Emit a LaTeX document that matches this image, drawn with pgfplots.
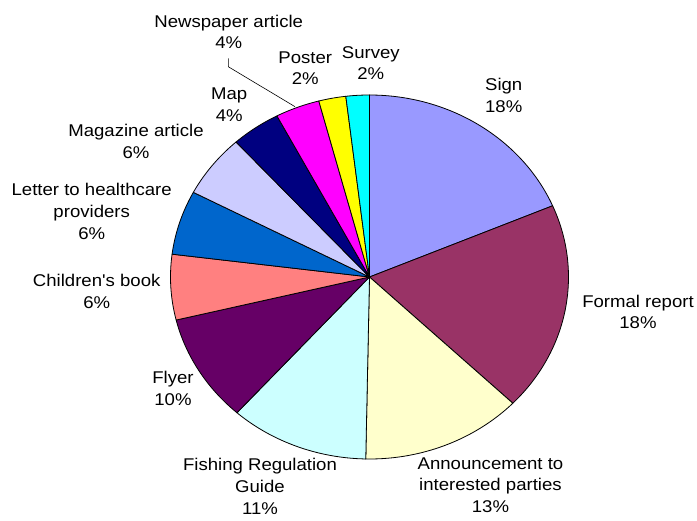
\documentclass[border=0pt]{standalone}
\usepackage{fontspec}
\setmainfont{Liberation Sans}
\usepackage{graphicx}
\usepackage{pgfplots}
\usepackage{pgfplotstable}
\pgfplotsset{compat=1.18}

\definecolor{c0}{HTML}{9999FF}
\definecolor{c1}{HTML}{993366}
\definecolor{c2}{HTML}{FFFFCC}
\definecolor{c3}{HTML}{CCFFFF}
\definecolor{c4}{HTML}{660066}
\definecolor{c5}{HTML}{FF8080}
\definecolor{c6}{HTML}{0066CC}
\definecolor{c7}{HTML}{CCCCFF}
\definecolor{c8}{HTML}{000080}
\definecolor{c9}{HTML}{FF00FF}
\definecolor{c10}{HTML}{FFFF00}
\definecolor{c11}{HTML}{00FFFF}

% share of each slice in percent, clockwise from 12 o'clock
\pgfplotstableread{
item share
Sign 18.6
FormalReport 18.6
Announcement 13.1
FishingGuide 11.3
Flyer 9.6
ChildrensBook 5.8
Letter 5.7
Magazine 5.6
Map 4.0
Newspaper 3.6
Poster 2.2
Survey 1.9
}\piedata

\newcommand{\lbl}[3]{\node[anchor=base, inner sep=0pt] at (axis cs:#1,{516-#2})
  {\scalebox{1.093}[1]{\begin{tabular}[t]{@{}c@{}}#3\end{tabular}}};}

\begin{document}
\begin{tikzpicture}
\pgfplotstablegetrowsof{\piedata}
\pgfmathtruncatemacro\lastrow{\pgfplotsretval-1}
\begin{axis}[
  scale only axis, width=697bp, height=516bp,
  xmin=0, xmax=697, ymin=0, ymax=516,
  hide axis, clip=false,
  font=\fontsize{17bp}{21.7bp}\selectfont,
]
\addplot[draw=none, fill=white, forget plot] coordinates {(0,0) (697,0) (697,516) (0,516)} -- cycle;
\def\cum{0}
\pgfplotsforeachungrouped \i in {0,...,\lastrow}{%
  \pgfplotstablegetelem{\i}{share}\of\piedata
  \pgfmathsetmacro\angA{\cum*3.6}%
  \pgfmathsetmacro\cumnew{\cum+\pgfplotsretval}%
  \pgfmathsetmacro\angB{\cumnew*3.6}%
  \edef\temp{\noexpand\addplot[fill=c\i, draw=black, line width=0.8bp, line join=round,
     domain=\angA:\angB, samples=60, variable=\noexpand\t, forget plot]
     ({369.5+199*sin(\noexpand\t)},{239+182*cos(\noexpand\t)}) -- (axis cs:369.5,239) -- cycle;}%
  \temp
  \global\let\cum\cumnew
}
% leader line for Newspaper article
\addplot[black, line width=0.6bp, forget plot] coordinates {(228.3,457.7) (228.3,449.3) (295,409.3)};

\lbl{503.7}{90.7}{Sign\\18\%}
\lbl{638}{307.3}{Formal report\\18\%}
\lbl{490.5}{469.3}{Announcement to\\interested parties\\13\%}
\lbl{260}{470.7}{Fishing Regulation\\Guide\\11\%}
\lbl{173}{384}{Flyer\\10\%}
\lbl{96.7}{286.7}{Children\textquotesingle s book\\6\%}
\lbl{91.7}{196}{Letter to healthcare\\providers\\6\%}
\lbl{136}{136.7}{Magazine article\\6\%}
\lbl{229.2}{100}{Map\\4\%}
\lbl{228.7}{27.3}{Newspaper article\\4\%}
\lbl{305.3}{63.3}{Poster\\2\%}
\lbl{370.8}{58.3}{Survey\\2\%}
\end{axis}
\end{tikzpicture}
\end{document}
